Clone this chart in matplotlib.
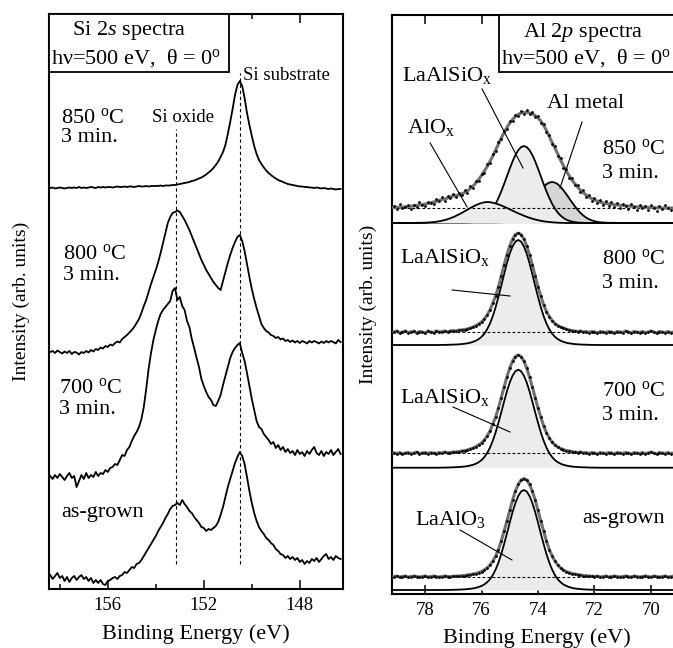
import numpy as np
import matplotlib
matplotlib.use("Agg")
import matplotlib.pyplot as plt
from matplotlib.patches import Rectangle

plt.rcParams['font.family'] = ['Liberation Serif', 'DejaVu Serif']
plt.rcParams['mathtext.fontset'] = 'custom'
plt.rcParams['mathtext.rm'] = 'Liberation Serif'
plt.rcParams['mathtext.it'] = 'Liberation Serif:italic'
plt.rcParams['mathtext.bf'] = 'Liberation Serif:bold'

# ---------------- Si 2s spectra (left panel) ----------------
si_energy = np.round(np.linspace(158.4, 146.3, 122), 2)
si_850 = [401, 401.5, 400.5, 401, 401.5, 401, 400.5, 401, 401.5, 401,
          401.5, 401, 402, 401, 401.5, 401, 401.5, 402, 401.5, 401,
          402, 401.5, 402, 401.5, 402, 402, 401.5, 402, 402.5, 402,
          402, 402.5, 402, 402.5, 402.5, 402, 402.5, 403, 402.5, 402.5,
          403, 402.5, 403, 403, 403, 403, 403.5, 403, 403.5, 403.5,
          403.5, 404, 404, 404.5, 405, 405.5, 406, 406.5, 407, 408,
          408.5, 409.5, 410.5, 411.5, 413, 414.5, 416.5, 418.5, 421, 424,
          427.5, 432, 437, 444, 455, 467, 480, 494, 504, 508,
          503, 491, 476, 464, 453, 443, 435, 429, 425, 421.5,
          418.5, 416, 414, 412, 410.5, 409, 408, 407, 406, 405,
          404.5, 404, 403.5, 403, 402.5, 402.5, 402, 402, 401.5, 401.5,
          401, 401.5, 401, 400.5, 401, 400.5, 400, 400.5, 400, 399.5,
          400, 400]
si_800 = [237, 238, 236, 238.5, 237, 235.5, 237.5, 236, 238, 235,
          237, 236.5, 234.5, 237, 236, 238, 236.5, 239, 237.5, 240,
          239, 241.5, 240.5, 243, 242, 244.5, 243.5, 246, 247.5, 246.5,
          250, 252, 254, 256.5, 259, 262, 266, 270, 276, 283,
          289, 297, 305, 312, 319, 327, 336, 346, 356, 366,
          372, 376, 377, 378.5, 377, 373, 369, 364, 359, 353,
          347, 341, 335, 329, 324, 319, 315, 311, 307, 304,
          301, 299, 308, 317, 326, 334, 341, 347, 352, 354,
          348, 338, 325, 312, 300, 290, 281, 273, 265, 261,
          258, 256.5, 254, 253, 251, 252, 249.5, 250.5, 248, 249,
          247, 248.5, 246.5, 248, 246, 248, 247, 245.5, 248, 246.5,
          248, 247, 245.5, 247.5, 246, 248, 246.5, 248, 247, 245.5,
          249, 247]
si_700 = [113, 110, 114, 111, 115, 112, 109, 113, 116, 111,
          113, 102, 108, 114, 110, 116, 111, 114, 112, 117,
          113, 116, 115, 119, 117, 121, 122, 125, 124, 129,
          134, 133, 139, 142, 148, 153, 157, 162, 170, 182,
          200, 220, 236, 249, 259, 268, 275, 279, 282, 285,
          288, 298, 301, 289, 292, 283, 279, 268, 262, 250,
          241, 231, 222, 210, 203, 197, 192, 189, 184, 183,
          188, 194, 204, 213, 222, 231, 237, 241, 244, 246,
          236, 228, 216, 203, 190, 179, 168, 162, 160, 155,
          152, 149, 145, 147, 141, 144, 139, 142, 137, 140,
          136, 138, 134, 139, 135, 137, 133, 138, 135, 139,
          142, 136, 134, 138, 133, 137, 135, 139, 134, 137,
          140, 135]
si_asgrown = [14, 10, 13, 16, 11, 13, 8, 12, 7, 11,
              13, 9, 12, 14, 10, 12, 8, 11, 6, 9,
              6, 9, 5, 4, 8, 9, 11, 12, 10, 13,
              14, 17, 16, 19, 22, 21, 25, 26, 29, 33,
              37, 41, 45, 49, 53, 58, 62, 66, 71, 75,
              80, 83, 84, 86, 84, 89, 85, 82, 78, 76,
              72, 69, 66, 62, 61, 58, 60, 59, 61, 63,
              67, 74, 82, 92, 102, 110, 118, 126, 132, 137,
              133, 125, 112, 98, 86, 76, 68, 62, 58, 55,
              51, 49, 46, 44, 40, 38, 35, 34, 31, 33,
              30, 32, 29, 31, 27, 29, 25, 28, 26, 30,
              28, 31, 27, 30, 33, 35, 30, 32, 29, 33,
              31, 30]
si_marker_energy = [153.14, 150.5]          # Si oxide, Si substrate
si_marker_top = [460, 516]
si_marker_bottom = 25
si_major_ticks = [156, 152, 148]
si_minor_ticks = [158, 154, 150]

# ---------------- Al 2p spectra (right panel) ----------------
al_dot_energy = np.round(np.linspace(79.1, 69.0, 102), 2)
al_fit_energy = np.concatenate([[79.2, 78.8, 78.4, 78.0],
                                np.round(np.linspace(77.8, 71.6, 63), 2),
                                [71.2, 70.8, 70.4, 70.0, 69.6, 68.9]])

dots_850 = [388, 385, 390, 386, 387, 389, 385, 389, 387, 392,
            389, 388, 392, 391, 390, 395, 393, 397, 393, 398,
            396, 400, 397, 401, 399, 404, 401, 408, 406, 413,
            413, 420, 421, 430, 431, 440, 443, 452, 455, 463,
            465, 473, 473, 479, 478, 483, 480, 484, 480, 482,
            477, 478, 471, 470, 462, 459, 450, 448, 438, 436,
            426, 425, 416, 416, 409, 409, 402, 404, 397, 399,
            393, 396, 391, 394, 389, 393, 388, 392, 387, 391,
            386, 390, 388, 385, 390, 387, 384, 389, 386, 388,
            384, 389, 386, 383, 388, 385, 389, 386, 384, 388,
            385, 387]
dots_800 = [262, 263, 261, 262, 263, 261.5, 262, 263, 261, 262.5,
            262, 261, 263, 262, 261.5, 263, 262, 262.5, 263, 262,
            263, 263.5, 263, 264, 264, 264.5, 265, 266, 267, 268.5,
            270, 272, 275, 279, 284, 291, 298, 307, 318, 329,
            339, 348, 355, 359.5, 361, 359.5, 355, 348, 339, 329,
            318, 307, 298, 289, 282.5, 277.5, 273.5, 270.5, 268.5, 267,
            266, 265, 264, 263.5, 263, 262.5, 263, 262, 262.5, 261.5,
            262.5, 262, 261, 262.5, 262, 261.5, 262.5, 262, 261, 262.5,
            262, 261.5, 263, 262, 261, 262.5, 262, 261.5, 262.5, 261.5,
            262, 263, 262, 261, 262.5, 262, 261.5, 262.5, 261.5, 262,
            262.5, 261.5]
dots_700 = [141, 140.5, 141.5, 140, 141, 141.5, 140.5, 141, 142, 140.5,
            141, 141.5, 140.5, 141.5, 141, 140.5, 141.5, 141, 142, 141,
            141.5, 142, 142, 142.5, 143, 143.5, 144, 145, 146, 147.5,
            149, 151, 154, 158, 163, 170, 177, 186, 196.5, 207,
            217, 226, 233, 237.5, 239, 237.5, 233, 226, 217, 207,
            196.5, 186, 177, 168, 161.5, 156, 152, 149, 147, 145.5,
            144.5, 143.5, 143, 142.5, 142, 141.5, 142, 141, 141.5, 140.5,
            141.5, 141, 140, 141.5, 141, 140.5, 141.5, 141, 140, 141.5,
            141, 140.5, 141.5, 141, 140, 141.5, 141, 140.5, 141.5, 140.5,
            141, 142, 141, 140, 141.5, 141, 140.5, 141.5, 140.5, 141,
            141.5, 140.5]
dots_asgrown = [17.5, 18, 17, 17.5, 18, 17, 17.5, 18, 17.5, 17,
                17.5, 18, 17, 17.5, 18, 17.5, 17, 17.5, 18, 17.5,
                17.5, 17.8, 17.8, 18, 18.3, 18.5, 19, 19.5, 20, 20.5,
                21.5, 22.5, 24, 26, 29, 33, 38, 44.5, 53, 63,
                73, 83.6, 94, 102.8, 109.6, 114, 115.5, 114, 109.6, 102.8,
                94, 83.6, 73, 63, 53, 44.5, 38, 33, 29, 26,
                24, 22.5, 21.5, 20.5, 20, 19.5, 19, 18.5, 18.3, 18,
                17.8, 17.5, 18, 17, 17.5, 18, 17, 17.5, 18, 17.5,
                17, 17.5, 18, 17.5, 17, 18, 17.5, 17, 17.5, 18,
                17.5, 17, 18, 17.5, 17, 17.5, 18, 17, 17.5, 18,
                17.5, 17]

fit_envelope_850 = [0.5, 1, 2, 4] + [
    5, 6, 6.5, 7.5, 8.5, 9, 10, 11, 12, 12.5,
    13, 14, 15.5, 17, 19.5, 22, 25, 28.5, 32.5, 37,
    41.5, 46.5, 52, 58, 64, 70, 75.5, 80.5, 85, 88.5,
    91.5, 93.5, 95, 95.5, 95.5, 95, 94, 92.5, 90, 87,
    82.5, 77.5, 71.5, 65.5, 60, 54, 48, 42.5, 37, 32.5,
    28, 24.5, 21, 18, 15.5, 13, 11, 9.5, 8, 7,
    6, 5, 4.5] + [3, 2, 1, 0.5, 0, 0]
comp_850_laalsio = [0, 0, 0, 0] + [0] * 12 + [
    0.2, 0.3, 0.5, 0.9, 1.4, 2.2, 3.4, 5.1, 7.4, 10.4, 14.3, 19.2, 25.0, 31.7,
    39.0, 46.7, 54.4, 61.7, 68.0, 72.8, 75.9, 77,
    75.9, 72.8, 68.0, 61.7, 54.4, 46.7, 39.0, 31.7, 25.0, 19.2, 14.3, 10.4,
    7.4, 5.1, 3.4, 2.2, 1.4, 0.9, 0.5, 0.3, 0.2] + [0] * 8 + [0] * 6
comp_850_almetal = [0, 0, 0, 0] + [0] * 23 + [
    0.2, 0.3, 0.5, 0.7, 1.2, 1.8, 2.7, 3.9, 5.5, 7.6, 10.2, 13.3, 16.9, 20.8,
    24.9, 29.0, 32.8, 36.2, 38.8, 40.4, 41,
    40.4, 38.8, 36.2, 32.8, 29.0, 24.9, 20.8, 16.9, 13.3, 10.2, 7.6, 5.5,
    3.9, 2.7, 1.8, 1.2, 0.7, 0.5, 0.3] + [0.1, 0, 0, 0, 0, 0]
comp_850_alox = [0, 0, 0.1, 0.3] + [
    0.7, 0.9, 1.3, 1.7, 2.3, 3.0, 3.8, 4.8, 5.9, 7.2,
    8.6, 10.1, 11.7, 13.3, 14.9, 16.4, 17.8, 19.0, 20.0, 20.7,
    21.0, 20.8, 20.3, 19.5, 18.6, 17.5, 16.3, 15.0, 13.7, 12.3,
    11.0, 9.7, 8.5, 7.3, 6.2, 5.2, 4.3, 3.5, 2.8, 2.2,
    1.7, 1.3, 1.0, 0.7, 0.5, 0.3, 0.2, 0.1] + [0] * 15 + [0] * 6
comp_800 = [0] * 4 + [
    0, 0, 0, 0, 0.1, 0.1, 0.2, 0.3, 0.4, 0.5, 0.7, 0.9, 1.3, 1.7, 2.3, 3.2,
    4.3, 5.9, 8.2, 11.3, 15.8, 21.5, 28.9, 37.8, 48.3, 59.3, 70.9, 81.9,
    91.4, 98.7, 103.4, 105,
    103.4, 98.7, 91.4, 81.9, 70.9, 59.3, 48.3, 37.8, 28.9, 21.5, 15.8, 11.3,
    8.2, 5.9, 4.3, 3.2, 2.3, 1.7, 1.3, 0.9, 0.7, 0.5, 0.4, 0.3, 0.2, 0.1,
    0.1, 0, 0, 0, 0] + [0] * 6
comp_700 = [0] * 4 + [
    0, 0, 0, 0, 0.1, 0.1, 0.2, 0.3, 0.4, 0.5, 0.7, 0.9, 1.2, 1.6, 2.2, 2.9,
    4.0, 5.5, 7.6, 10.6, 14.7, 20.1, 27.0, 35.3, 45.1, 55.4, 66.2, 76.4,
    85.3, 92.1, 96.5, 98,
    96.5, 92.1, 85.3, 76.4, 66.2, 55.4, 45.1, 35.3, 27.0, 20.1, 14.7, 10.6,
    7.6, 5.5, 4.0, 2.9, 2.2, 1.6, 1.2, 0.9, 0.7, 0.5, 0.4, 0.3, 0.2, 0.1,
    0.1, 0, 0, 0, 0] + [0] * 6
comp_asgrown = [0] * 4 + [
    0, 0, 0, 0, 0, 0, 0.1, 0.1, 0.2, 0.3, 0.4, 0.5, 0.7, 0.9, 1.2, 1.6, 2.2,
    3.0, 4.1, 5.6, 7.8, 10.8, 15, 20.5, 27.5, 36, 46, 56.5, 67.5, 78, 87, 94,
    98.5, 100,
    98.5, 94, 87, 78, 67.5, 56.5, 46, 36, 27.5, 20.5, 15, 10.8, 7.8, 5.6,
    4.1, 3.0, 2.2, 1.6, 1.2, 0.9, 0.7, 0.5, 0.4, 0.3, 0.2, 0.1, 0.1, 0, 0] + [0] * 6

background_levels = {'850': 386, '800': 262, '700': 140.7, 'asgrown': 17.3}
component_bases = {'850': 371, '800': 249, '700': 126.3, 'asgrown': 4}
al_major_ticks = [78, 76, 74, 72, 70]

DEG = r"$^{\rm o}$"
si_texts = [("850 " + DEG + "C", 157.95, 471), ("3 min.", 157.95, 452),
            ("800 " + DEG + "C", 157.86, 335), ("3 min.", 157.86, 313),
            ("700 " + DEG + "C", 158.03, 201), ("3 min.", 158.03, 179),
            ("as-grown", 157.96, 76)]
si_peak_texts = [("Si oxide", 154.15, 471), ("Si substrate", 150.36, 514)]
al_texts = [("LaAlSiO$_{\\rm x}$", 78.81, 519), ("Al metal", 73.68, 491),
            ("AlO$_{\\rm x}$", 78.64, 466),
            ("850 " + DEG + "C", 71.73, 445), ("3 min.", 71.73, 421),
            ("LaAlSiO$_{\\rm x}$", 78.88, 337),
            ("800 " + DEG + "C", 71.73, 335), ("3 min.", 71.73, 311),
            ("LaAlSiO$_{\\rm x}$", 78.88, 196),
            ("700 " + DEG + "C", 71.73, 203), ("3 min.", 71.73, 179),
            ("LaAlO$_3$", 78.35, 74), ("as-grown", 72.44, 75)]
al_leaders = [((75.98, 505), (74.53, 426)), ((72.44, 472), (73.22, 406)),
              ((77.82, 451), (76.51, 387)), ((77.04, 304), (74.99, 298)),
              ((77.01, 187), (74.99, 162)), ((76.76, 64), (74.92, 34))]

# ---------------- figure ----------------
fig = plt.figure(figsize=(6.73, 6.48), dpi=100)
axL = fig.add_axes([49 / 673, 59 / 648, 294 / 673, 575 / 648])
axR = fig.add_axes([392 / 673, 54 / 648, 290 / 673, 579 / 648])

LBL = 16
TICK = 13.5

for ax in (axL, axR):
    for s in ax.spines.values():
        s.set_linewidth(1.5)
    ax.tick_params(which='both', direction='in', top=True, bottom=True,
                   left=False, right=False, labelleft=False, width=1.1,
                   labelsize=TICK, pad=6)
    ax.tick_params(which='major', length=6.5)
    ax.tick_params(which='minor', length=3.6)

# left panel
for spec in (si_850, si_800, si_700, si_asgrown):
    axL.plot(si_energy, spec, color='black', lw=1.3)
for e, top in zip(si_marker_energy, si_marker_top):
    axL.vlines(e, si_marker_bottom, top, colors='black', lw=0.8,
               linestyles=(0, (3, 2.5)))
axL.set_xlim(158.45, 146.2)
axL.set_ylim(0, 575)
axL.set_xticks(si_major_ticks)
axL.set_xticks(si_minor_ticks, minor=True)
axL.set_xticklabels([str(t) for t in si_major_ticks])
for t, x, y in si_texts:
    axL.text(x, y, t, fontsize=LBL, ha='left', va='center')
for t, x, y in si_peak_texts:
    axL.text(x, y, t, fontsize=13.5, ha='left', va='center')
axL.set_xlabel("Binding Energy (eV)", fontsize=LBL)
axL.xaxis.set_label_coords(0.5, -0.062)
axL.set_ylabel("Intensity (arb. units)", fontsize=14)
axL.yaxis.set_label_coords(-0.065, 0.5)
axL.add_patch(Rectangle((0, 0.899), 0.612, 0.101, transform=axL.transAxes,
                        facecolor='white', edgecolor='black', lw=1.3,
                        zorder=10, clip_on=False))
axL.text(0.078, 0.972, "Si 2$s$ spectra", transform=axL.transAxes,
         fontsize=LBL, ha='left', va='center', zorder=11)
axL.text(0.007, 0.9235, "h\u03bd=500 eV,  \u03b8 = 0" + DEG,
         transform=axL.transAxes, fontsize=LBL, ha='left', va='center', zorder=11)

# right panel
E = al_fit_energy
def draw_component(comp, base, fc, z):
    c = np.asarray(comp, dtype=float) + base
    axR.fill_between(E, base, c, color=fc, lw=0, zorder=z)
    axR.plot(E, c, color='black', lw=1.3, zorder=z + 0.1)

draw_component(comp_850_almetal, component_bases['850'], '#d6d6d6', 2)
draw_component(comp_850_laalsio, component_bases['850'], '#ececec', 3)
draw_component(comp_850_alox, component_bases['850'], '#ececec', 4)
draw_component(comp_800, component_bases['800'], '#ececec', 2)
draw_component(comp_700, component_bases['700'], '#ececec', 2)
draw_component(comp_asgrown, component_bases['asgrown'], '#ececec', 2)

for key in background_levels:
    axR.axhline(background_levels[key], color='black', lw=0.8,
                ls=(0, (2.5, 2)), zorder=6)

axR.plot(E, np.asarray(fit_envelope_850) + background_levels['850'],
         color='#707070', lw=2.2, zorder=7)
for dots in (dots_800, dots_700, dots_asgrown):
    axR.plot(al_dot_energy, dots, color='#707070', lw=2.2, zorder=7)
for dots in (dots_850, dots_800, dots_700, dots_asgrown):
    axR.plot(al_dot_energy, dots, ls='none', marker='o', ms=2.0, mew=0,
             color='black', zorder=8)

for (p0, p1) in al_leaders:
    axR.plot([p0[0], p1[0]], [p0[1], p1[1]], color='black', lw=0.8, zorder=9)
for t, x, y in al_texts:
    axR.text(x, y, t, fontsize=LBL, ha='left', va='center', zorder=9)

axR.set_xlim(79.17, 68.9)
axR.set_ylim(0, 579)
axR.set_xticks(al_major_ticks)
axR.set_xticklabels([str(t) for t in al_major_ticks])
axR.set_xlabel("Binding Energy (eV)", fontsize=LBL)
axR.xaxis.set_label_coords(0.5, -0.06)
axR.set_ylabel("Intensity (arb. units)", fontsize=14)
axR.yaxis.set_label_coords(-0.052, 0.5)
axR.add_patch(Rectangle((0.369, 0.9016), 0.7, 0.0984, transform=axR.transAxes,
                        facecolor='white', edgecolor='black', lw=1.3,
                        zorder=10, clip_on=False))
axR.text(0.452, 0.9706, "Al 2$p$ spectra", transform=axR.transAxes,
         fontsize=LBL, ha='left', va='center', zorder=11)
axR.text(0.376, 0.9257, "h\u03bd=500 eV,  \u03b8 = 0" + DEG,
         transform=axR.transAxes, fontsize=LBL, ha='left', va='center', zorder=11)

fig.savefig("out.png", dpi=100)
